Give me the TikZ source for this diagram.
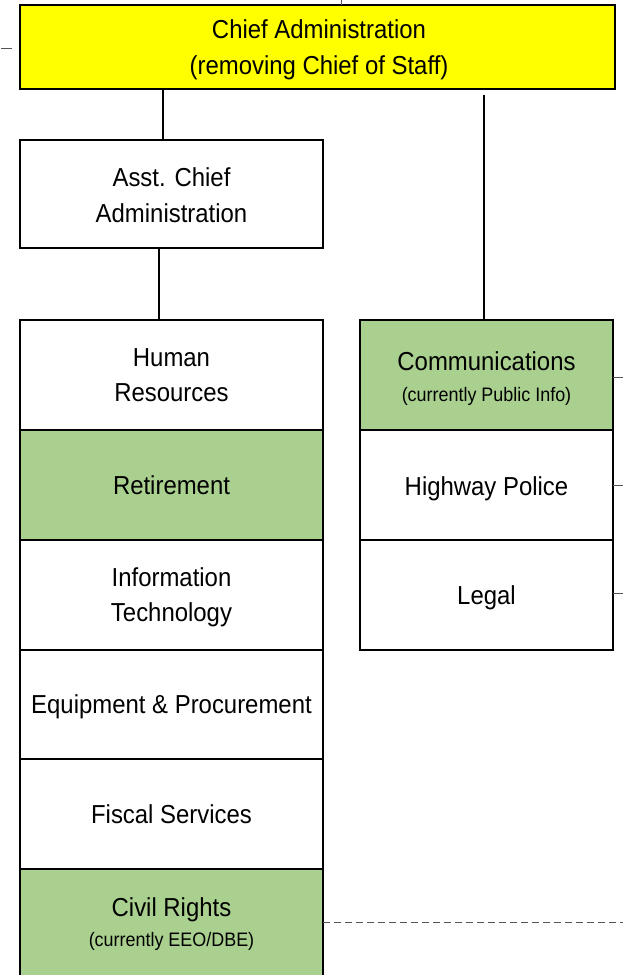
\documentclass[tikz,border=0pt]{standalone}
\usepackage{fontspec}
\setmainfont{Liberation Sans}[FakeStretch=0.92]
\definecolor{boxgreen}{HTML}{A9D08E}
\definecolor{boxyellow}{HTML}{FFFF00}
\definecolor{tickgray}{HTML}{555555}
\tikzset{
  cell/.style={draw=black, line width=2.8pt, anchor=north west, inner sep=0pt, outer sep=0pt},
  lbl/.style={anchor=base, font=\fontsize{26}{36}\selectfont, inner sep=0pt},
  smalllbl/.style={anchor=base, font=\fontsize{19.5}{22}\selectfont, inner sep=0pt},
  link/.style={line width=2.2pt},
  tickline/.style={line width=0.8pt, draw=tickgray},
  dashline/.style={line width=0.8pt, draw=tickgray, dash pattern=on 7pt off 4pt}
}
\begin{document}
\begin{tikzpicture}[x=1pt,y=-1pt]
\useasboundingbox (0,0) rectangle (623,975);
% top box
\node[cell, fill=boxyellow, minimum width=595pt, minimum height=84pt] (chief) at (20,5) {};
\node[lbl] (chiefa) at (319,38) {Chief Administration};
\node[lbl] (chiefb) at (319,74) {(removing Chief of Staff)};
% assistant
\node[cell, fill=white, minimum width=303pt, minimum height=108pt] (asst) at (20,140) {};
\node[lbl] (assta) at (171.5,186) {Asst. Chief};
\node[lbl] (asstb) at (171.5,222) {Administration};
% left column
\node[cell, fill=white, minimum width=303pt, minimum height=110pt] (hr) at (20,320) {};
\node[cell, fill=boxgreen, minimum width=303pt, minimum height=110pt] (ret) at (20,430) {};
\node[cell, fill=white, minimum width=303pt, minimum height=110pt] (it) at (20,540) {};
\node[cell, fill=white, minimum width=303pt, minimum height=109pt] (eq) at (20,650) {};
\node[cell, fill=white, minimum width=303pt, minimum height=110pt] (fis) at (20,759) {};
\node[cell, fill=boxgreen, minimum width=303pt, minimum height=120pt] (civ) at (20,869) {};
\node[lbl] (hra) at (171.5,366.5) {Human};
\node[lbl] (hrb) at (171.5,401.5) {Resources};
\node[lbl] (reta) at (171.5,494) {Retirement};
\node[lbl] (ita) at (171.5,586) {Information};
\node[lbl] (itb) at (171.5,621) {Technology};
\node[lbl] (eqa) at (171.5,713.5) {Equipment \& Procurement};
\node[lbl] (fisa) at (171.5,823) {Fiscal Services};
\node[lbl] (civa) at (171.5,916.5) {Civil Rights};
\node[smalllbl] (civb) at (171.5,946.5) {(currently EEO/DBE)};
% right column
\node[cell, fill=boxgreen, minimum width=253pt, minimum height=110pt] (comm) at (360,320) {};
\node[cell, fill=white, minimum width=253pt, minimum height=110pt] (hwy) at (360,430) {};
\node[cell, fill=white, minimum width=253pt, minimum height=110pt] (legal) at (360,540) {};
\node[lbl] (comma) at (486.5,370.5) {Communications};
\node[smalllbl] (commb) at (486.5,401.5) {(currently Public Info)};
\node[lbl] (hwya) at (486.5,495) {Highway Police};
\node[lbl] (legala) at (486.5,604.5) {Legal};
% connectors
\coordinate (c1) at (163,0);
\coordinate (c2) at (159,0);
\coordinate (r1) at (484,95);
\draw[link] (chief.south -| c1) -- (asst.north -| c1);
\draw[link] (asst.south -| c2) -- (hr.north -| c2);
\draw[link] (r1) -- (r1 |- comm.north);
% small ticks
\coordinate (t0) at (341,0);
\coordinate (tl) at (1,48);
\draw[tickline] (t0) -- (t0 |- chief.north);
\draw[tickline] (tl) -- ++(11,0);
\draw[tickline] ([yshift=-2pt]comm.east) -- ++(10,0);
\draw[tickline] (hwy.east) -- ++(10,0);
\draw[tickline] ([yshift=2pt]legal.east) -- ++(10,0);
\draw[dashline] ([yshift=7pt]civ.east) -- ++(300,0);
\end{tikzpicture}
\end{document}
